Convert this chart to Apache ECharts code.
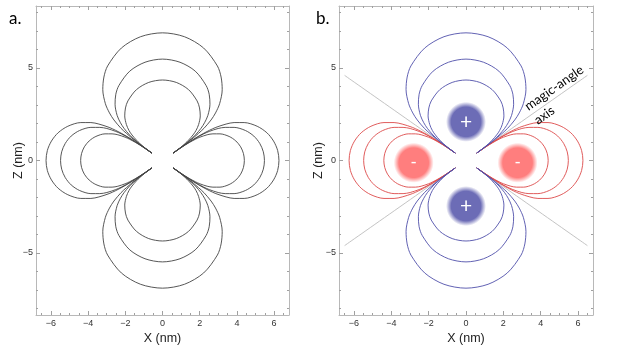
<!DOCTYPE html>
<html>
<head>
<meta charset="utf-8">
<script src="https://cdn.jsdelivr.net/npm/echarts@6/dist/echarts.min.js"></script>
<style>
html, body { margin: 0; padding: 0; background: #fff; }
#chart { width: 623px; height: 350px; }
</style>
</head>
<body>
<div id="chart"></div>
<script>
// axis ranges and tick labels (nm)
var xRange = [-6.8, 6.8];
var zRange = [-8.35, 8.35];
var xTicks = [-6, -4, -2, 0, 2, 4, 6];
var zTicks = [-5, 0, 5];

// one half of each lobe (first quadrant),
// running from the cusp near the origin out to the symmetry axis
var zLobeOuter  = [[0.57,0.40],[1.01,0.72],[1.47,1.07],[1.93,1.46],[2.23,1.74],[2.61,2.19],[2.85,2.57],[3.07,3.07],[3.21,3.83],[3.15,4.51],[2.95,5.11],[2.21,6.08],[1.18,6.69],[0,6.90]];
var zLobeMiddle = [[0.57,0.40],[0.80,0.57],[1.17,0.85],[1.54,1.16],[1.77,1.38],[2.07,1.74],[2.26,2.04],[2.44,2.44],[2.55,3.04],[2.51,3.58],[2.34,4.06],[1.76,4.83],[0.94,5.31],[0,5.48]];
var zLobeInner  = [[0.57,0.40],[0.93,0.67],[1.22,0.92],[1.40,1.10],[1.64,1.38],[1.80,1.62],[1.94,1.94],[2.03,2.41],[1.99,2.84],[1.86,3.22],[1.40,3.83],[0.74,4.22],[0,4.35]];
var xLobeOuter  = [[0.57,0.40],[1.45,1.01],[2.05,1.38],[2.52,1.63],[2.87,1.79],[3.42,1.97],[3.85,2.05],[4.39,2.05],[5.09,1.85],[5.61,1.50],[5.97,1.05],[6.19,0.54],[6.26,0]];
var xLobeMiddle = [[0.57,0.40],[1.27,0.88],[1.80,1.21],[2.20,1.43],[2.51,1.57],[2.99,1.73],[3.37,1.79],[3.85,1.79],[4.46,1.62],[4.91,1.32],[5.23,0.92],[5.42,0.47],[5.48,0]];
var xLobeInner  = [[0.57,0.40],[1.02,0.71],[1.44,0.97],[1.77,1.15],[2.01,1.26],[2.40,1.39],[2.71,1.44],[3.09,1.44],[3.58,1.30],[3.94,1.06],[4.20,0.74],[4.35,0.38],[4.40,0]];

// panel b extras
var blobX = [0, 0, -2.8, 2.76];
var blobZ = [2.09, -2.46, -0.12, -0.12];
var blobSign = ['+', '+', '-', '-'];
var magicEnd = [6.5, 4.6];
var cusp = [0.57, 0.40];

var chart = echarts.init(document.getElementById('chart'));

var frameColor = '#b8b8b8';
var tickFont = 'Liberation Sans';
var textFont = 'Lato';

function minus(v) {
    return v < 0 ? '\u2212' + (-v) : String(v);
}

function minorTicks(range, step, majors) {
    var out = [];
    for (var v = Math.ceil(range[0] / step) * step; v <= range[1]; v += step) {
        v = Math.round(v * 100) / 100;
        if (majors.indexOf(v) < 0) out.push(v);
    }
    return out;
}

var xMinor = minorTicks(xRange, 0.5, xTicks);
var zMinor = minorTicks(zRange, 1, zTicks);

function mirrorLoop(half, flipX) {
    var pts = half.slice();
    for (var i = half.length - 2; i >= 0; i--) {
        var p = half[i];
        pts.push(flipX ? [-p[0], p[1]] : [p[0], -p[1]]);
    }
    return pts;
}

function flip(pts, sx, sz) {
    return pts.map(function (p) { return [p[0] * sx, p[1] * sz]; });
}

function axisSet(g, dim, withLabels, nameGap) {
    var isX = dim === 'x';
    var range = isX ? xRange : zRange;
    var majors = isX ? xTicks : zTicks;
    var minors = isX ? xMinor : zMinor;
    var sides = isX ? ['bottom', 'top'] : ['left', 'right'];
    var list = [];
    sides.forEach(function (side, s) {
        [majors, minors].forEach(function (vals, k) {
            var ax = {
                gridIndex: g, type: 'value', position: side,
                min: range[0], max: range[1],
                axisLine: { show: k === 0, onZero: false, lineStyle: { color: frameColor, width: 1 } },
                axisTick: { show: true, inside: true, length: k === 0 ? 4 : 2, customValues: vals,
                            lineStyle: { color: '#a0a0a0' } },
                axisLabel: { show: false },
                splitLine: { show: false }
            };
            if (s === 0 && k === 0 && withLabels) {
                ax.axisLabel = {
                    show: true, customValues: majors, formatter: minus,
                    color: '#333', fontSize: 9, fontFamily: tickFont,
                    margin: isX ? 4 : 3
                };
                ax.name = isX ? 'X (nm)' : 'Z (nm)';
                ax.nameLocation = 'middle';
                ax.nameGap = nameGap;
                ax.nameMoveOverlap = false;
                ax.nameTextStyle = { color: '#222', fontSize: 12.5, fontFamily: tickFont };
            }
            list.push(ax);
        });
    });
    return list;
}

var grids = [
    { left: 36, top: 6, width: 253, height: 312 },
    { left: 339, top: 6, width: 254, height: 312 }
];

var xAxes = axisSet(0, 'x', true, 17).concat(axisSet(1, 'x', true, 17));
var yAxes = axisSet(0, 'y', true, 11).concat(axisSet(1, 'y', true, 14));

var series = [];

function addLine(panel, data, color, width, z) {
    series.push({
        type: 'line', xAxisIndex: panel * 4, yAxisIndex: panel * 4,
        data: data, smooth: 0.3, showSymbol: false, symbol: 'none',
        silent: true, z: z || 3,
        lineStyle: { color: color, width: width || 1 }
    });
}

// magic-angle axis lines, panel b
[[1, 1], [-1, 1], [1, -1], [-1, -1]].forEach(function (s) {
    addLine(1, [[cusp[0] * s[0], cusp[1] * s[1]], [magicEnd[0] * s[0], magicEnd[1] * s[1]]], '#c4c4c4', 1, 2);
});

var zHalves = [zLobeOuter, zLobeMiddle, zLobeInner];
var xHalves = [xLobeOuter, xLobeMiddle, xLobeInner];

[0, 1].forEach(function (panel) {
    var zColor = panel === 0 ? '#444' : '#5050aa';
    var xColor = panel === 0 ? '#444' : '#dc4a4a';
    xHalves.forEach(function (half) {
        var right = mirrorLoop(half, false);
        addLine(panel, right, xColor, 0.9, 3);
        addLine(panel, flip(right, -1, 1), xColor, 0.9, 3);
    });
    zHalves.forEach(function (half) {
        var top = mirrorLoop(half, true);
        addLine(panel, top, zColor, 0.9, 4);
        addLine(panel, flip(top, 1, -1), zColor, 0.9, 4);
    });
});

function blobColor(rgb) {
    return {
        type: 'radial', x: 0.5, y: 0.5, r: 0.5,
        colorStops: [
            { offset: 0, color: 'rgba(' + rgb + ',1)' },
            { offset: 0.74, color: 'rgba(' + rgb + ',1)' },
            { offset: 1, color: 'rgba(' + rgb + ',0)' }
        ]
    };
}

series.push({
    type: 'scatter', xAxisIndex: 4, yAxisIndex: 4, silent: true, z: 1,
    symbol: 'circle', symbolSize: 40,
    data: blobX.map(function (x, i) {
        var plus = blobSign[i] === '+';
        return {
            value: [x, blobZ[i]],
            itemStyle: { color: blobColor(plus ? '108,108,182' : '255,126,126'), opacity: 1 },
            label: {
                show: true, position: 'inside', formatter: blobSign[i],
                color: '#fff', fontFamily: textFont,
                fontSize: plus ? 21 : 17
            }
        };
    })
});

chart.setOption({
    animation: false,
    backgroundColor: '#fff',
    grid: grids,
    xAxis: xAxes,
    yAxis: yAxes,
    series: series
});

// annotations placed through the panel b scales
var magicLabels = [
    { text: 'magic-angle', x: 4.72, z: 3.92 },
    { text: 'axis', x: 4.2, z: 2.44 }
];
var p1 = chart.convertToPixel({ gridIndex: 1 }, [0, 0]);
var p2 = chart.convertToPixel({ gridIndex: 1 }, magicEnd);
var angle = Math.atan2(p1[1] - p2[1], p2[0] - p1[0]);

var graphics = [
    { type: 'text', x: 9, y: 10, style: { text: 'a.', font: '17px ' + textFont, fill: '#000' } },
    { type: 'text', x: 316, y: 10, style: { text: 'b.', font: '17px ' + textFont, fill: '#000' } }
];
magicLabels.forEach(function (m) {
    var p = chart.convertToPixel({ gridIndex: 1 }, [m.x, m.z]);
    graphics.push({
        type: 'text', x: p[0], y: p[1], rotation: angle, z: 10,
        style: { text: m.text, font: '13px ' + textFont, fill: '#000',
                 textAlign: 'center', textVerticalAlign: 'middle' }
    });
});
chart.setOption({ graphic: graphics });
</script>
</body>
</html>
